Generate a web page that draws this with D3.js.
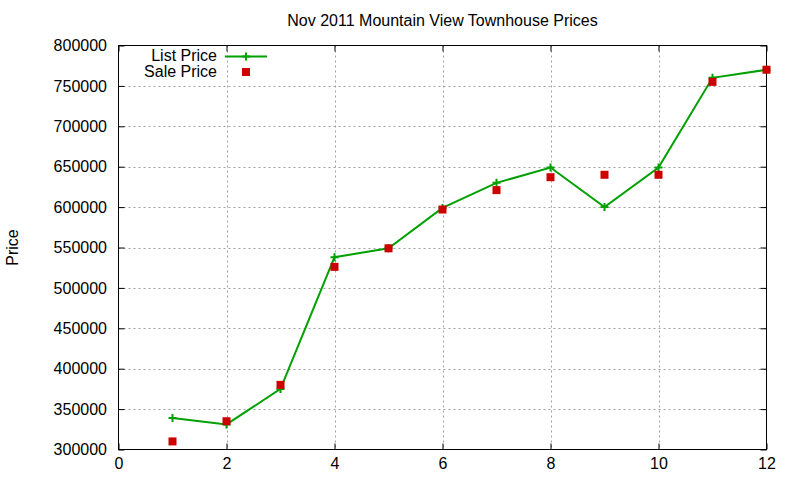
<!DOCTYPE html>
<html>
<head>
<meta charset="utf-8">
<script src="https://cdn.jsdelivr.net/npm/d3@7"></script>
<style>
  body { margin: 0; background: #fff; }
  svg text { font-family: "Liberation Sans", Arial, sans-serif; fill: #000; }
</style>
</head>
<body>
<div id="chart"></div>
<script>
// Data
const months     = [1, 2, 3, 4, 5, 6, 7, 8, 9, 10, 11, 12];
const listPrice  = [339000, 331000, 375000, 538000, 549000, 599000, 630000, 649000, 600000, 649000, 760000, 770000];
const salePrice  = [310000, 335000, 380000, 526000, 549000, 597000, 621000, 637000, 640000, 640000, 755000, 770000];
const xTicks     = [0, 2, 4, 6, 8, 10, 12];
const yTicks     = [300000, 350000, 400000, 450000, 500000, 550000, 600000, 650000, 700000, 750000, 800000];

const width = 800, height = 480;
const m = { left: 118.5, right: 766.5, top: 45.5, bottom: 449.5 };

const svg = d3.select('#chart').append('svg')
  .attr('width', width).attr('height', height);

const x = d3.scaleLinear().domain([0, 12]).range([m.left, m.right]);
const y = d3.scaleLinear().domain([300000, 800000]).range([m.bottom, m.top]);

// Grid
const grid = svg.append('g')
  .attr('stroke', '#a0a0a0').attr('stroke-width', 1).attr('stroke-dasharray', '2,3');
grid.selectAll('.gx').data(xTicks.slice(1, -1)).join('line')
  .attr('x1', d => Math.round(x(d)) + 0.5).attr('x2', d => Math.round(x(d)) + 0.5)
  .attr('y1', m.top).attr('y2', m.bottom);
grid.selectAll('.gy').data(yTicks.slice(1, -1)).join('line')
  .attr('y1', d => Math.round(y(d)) + 0.5).attr('y2', d => Math.round(y(d)) + 0.5)
  .attr('x1', m.left).attr('x2', m.right);

// Axes (ticks inside, mirrored)
const axB = svg.append('g').attr('transform', `translate(0,${m.bottom})`)
  .call(d3.axisBottom(x).tickValues(xTicks).tickSize(-6).tickPadding(8).tickFormat(d3.format('d')));
const axT = svg.append('g').attr('transform', `translate(0,${m.top})`)
  .call(d3.axisTop(x).tickValues(xTicks).tickSize(-6).tickFormat(''));
const axL = svg.append('g').attr('transform', `translate(${m.left},0)`)
  .call(d3.axisLeft(y).tickValues(yTicks).tickSize(-6).tickPadding(11.5).tickFormat(d3.format('d')));
const axR = svg.append('g').attr('transform', `translate(${m.right},0)`)
  .call(d3.axisRight(y).tickValues(yTicks).tickSize(-6).tickFormat(''));

[axB, axT, axL, axR].forEach(a => {
  a.select('.domain').remove();
  a.selectAll('line').attr('stroke', '#000');
  a.selectAll('text').attr('font-size', 16).attr('font-family', 'Liberation Sans, Arial, sans-serif').attr('fill', '#000');
});
axB.selectAll('text').attr('dy', '0.71em');

// Border
svg.append('rect')
  .attr('x', m.left).attr('y', m.top)
  .attr('width', m.right - m.left).attr('height', m.bottom - m.top)
  .attr('fill', 'none').attr('stroke', '#000').attr('stroke-width', 1);

// Title and axis label
svg.append('text').attr('x', (m.left + m.right) / 2).attr('y', 26)
  .attr('text-anchor', 'middle').attr('font-size', 16).text('Nov 2011 Mountain View Townhouse Prices');
svg.append('text').attr('transform', `translate(18,${(m.top + m.bottom) / 2}) rotate(-90)`)
  .attr('text-anchor', 'middle').attr('font-size', 16).text('Price');

const green = '#00a000', red = '#cc0000';

// List price line
const line = d3.line().x((d, i) => x(months[i])).y(d => y(d));
svg.append('path').datum(listPrice)
  .attr('d', line).attr('fill', 'none').attr('stroke', green).attr('stroke-width', 2);

const plus = (g, cx, cy) => g.append('path')
  .attr('d', `M${cx - 4},${cy}H${cx + 4}M${cx},${cy - 4}V${cy + 4}`)
  .attr('stroke', green).attr('stroke-width', 2);

const pts = svg.append('g');
listPrice.forEach((v, i) => plus(pts, x(months[i]), y(v)));

// Sale price squares
svg.append('g').selectAll('rect').data(salePrice).join('rect')
  .attr('x', (d, i) => x(months[i]) - 4).attr('y', d => y(d) - 4)
  .attr('width', 8).attr('height', 8).attr('fill', red);

// Legend
const lg = svg.append('g');
lg.append('text').attr('x', 217).attr('y', 61).attr('text-anchor', 'end').attr('font-size', 16).text('List Price');
lg.append('line').attr('x1', 225).attr('x2', 267).attr('y1', 56.5).attr('y2', 56.5)
  .attr('stroke', green).attr('stroke-width', 2);
plus(lg, 246, 56.5);
lg.append('text').attr('x', 217).attr('y', 77).attr('text-anchor', 'end').attr('font-size', 16).text('Sale Price');
lg.append('rect').attr('x', 242).attr('y', 68).attr('width', 8).attr('height', 8).attr('fill', red);
</script>
</body>
</html>
